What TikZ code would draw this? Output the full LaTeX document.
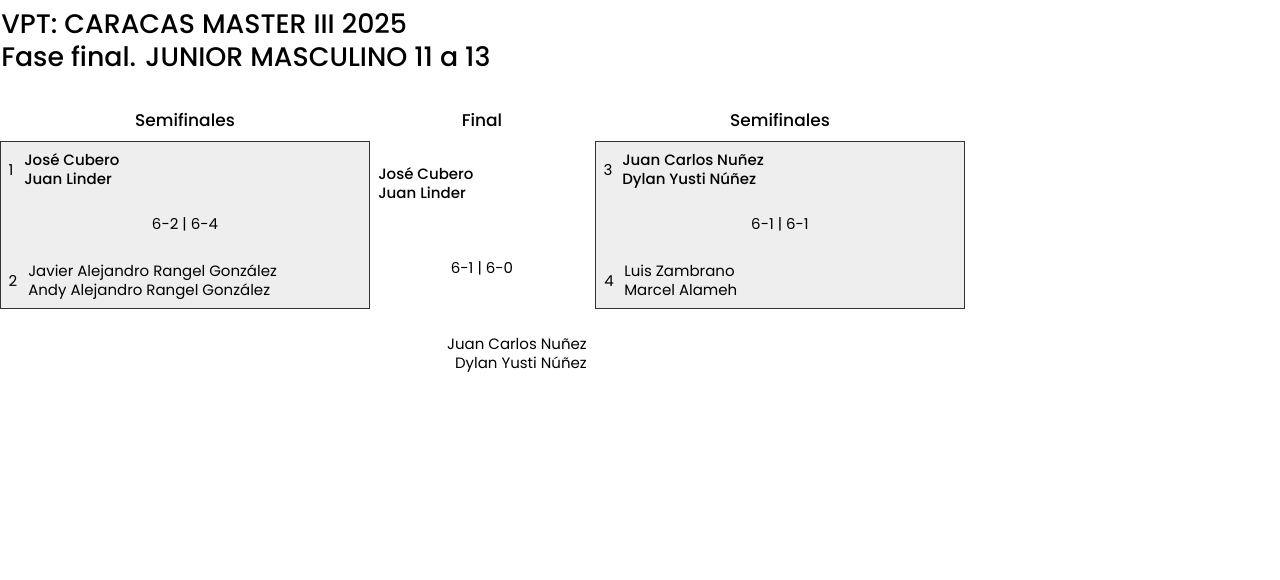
\documentclass[tikz,border=0pt]{standalone}
\usepackage{fontspec}
\setmainfont{Poppins}[BoldFont={Poppins Medium}]
\definecolor{boxfill}{HTML}{EEEEEE}
\definecolor{boxline}{HTML}{333333}
\tikzset{
  team/.style={anchor=base west,align=left,font=\fontsize{11.25}{14.25}\selectfont},
  winner/.style={team,font=\fontsize{11.25}{14.25}\selectfont\bfseries},
  seed/.style={font=\fontsize{11.25}{14.25}\selectfont},
  score/.style={font=\fontsize{11.25}{14.25}\selectfont},
  round/.style={font=\fontsize{12.75}{15}\selectfont\bfseries},
  heading/.style={anchor=west,font=\fontsize{20.1}{24}\selectfont\bfseries},
  match/.style={draw=boxline,fill=boxfill,line width=0.75pt}
}
\begin{document}
\begin{tikzpicture}[x=0.75pt,y=-0.75pt,inner sep=0pt,minimum size=0mm]

\useasboundingbox (0,0) rectangle (1280,580);

\node[heading] (title) at (1,24) {VPT: CARACAS MASTER III 2025};
\node[heading] (phase) at (1,56.5) {Fase final. JUNIOR MASCULINO 11 a 13};

\node[round] (semileft) at (185,120) {Semifinales};
\node[round] (final) at (482,120) {Final};
\node[round] (semiright) at (780,120) {Semifinales};

% left semifinal
\draw[match] (0.5,141.5) rectangle (369.5,308.5);
\node[seed] (s1) at (11,170) {1};
\node[winner] (t1) at (24,184.5) {José Cubero\\Juan Linder};
\node[score] (sc1) at (185,224.5) {6-2 | 6-4};
\node[seed] (s2) at (13,281) {2};
\node[team] (t2) at (28,295.5) {Javier Alejandro Rangel González\\Andy Alejandro Rangel González};

% right semifinal
\draw[match] (595.5,141.5) rectangle (964.5,308.5);
\node[seed] (s3) at (608,170) {3};
\node[winner] (t3) at (622,184.5) {Juan Carlos Nuñez\\Dylan Yusti Núñez};
\node[score] (sc2) at (780,224.5) {6-1 | 6-1};
\node[seed] (s4) at (609,281) {4};
\node[team] (t4) at (624,295.5) {Luis Zambrano\\Marcel Alameh};

% final
\node[winner] (f1) at (378,198.5) {José Cubero\\Juan Linder};
\node[score] (sc3) at (482,268.5) {6-1 | 6-0};
\node[team,anchor=base east,align=right] (f2) at (587,368.5) {Juan Carlos Nuñez\\Dylan Yusti Núñez};

\end{tikzpicture}
\end{document}
